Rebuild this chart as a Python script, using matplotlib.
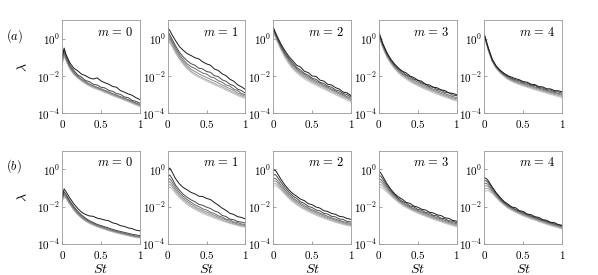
import numpy as np
import matplotlib
matplotlib.use("Agg")
import matplotlib.pyplot as plt

plt.rcParams['mathtext.fontset'] = 'cm'
plt.rcParams['font.family'] = 'serif'
plt.rcParams['font.serif'] = ['DejaVu Serif']

# Strouhal number samples
st = [0, 0.025, 0.05, 0.1, 0.15, 0.2, 0.25, 0.3, 0.35, 0.4, 0.45,
      0.5, 0.55, 0.6, 0.65, 0.7, 0.75, 0.8, 0.85, 0.9, 0.95, 1.0]

# log10(lambda), darkest curve first, row (a)
a_m0 = [
    [-1.0, -0.5, -0.85, -1.3, -1.58, -1.72, -1.9, -1.98, -2.1, -2.16, -2.1, -2.26, -2.36, -2.44, -2.56, -2.6, -2.78, -2.86, -2.96, -3.03, -3.16, -3.26],
    [-0.9, -0.6, -0.95, -1.42, -1.7, -1.94, -2.06, -2.24, -2.3, -2.44, -2.48, -2.6, -2.64, -2.77, -2.82, -2.94, -2.98, -3.12, -3.16, -3.3, -3.36, -3.45],
    [-1.1, -0.72, -1.05, -1.5, -1.8, -2.0, -2.17, -2.3, -2.42, -2.52, -2.6, -2.68, -2.77, -2.85, -2.94, -3.02, -3.1, -3.18, -3.27, -3.35, -3.44, -3.52],
    [-1.2, -0.8, -1.1, -1.55, -1.84, -2.04, -2.2, -2.34, -2.46, -2.56, -2.64, -2.72, -2.81, -2.89, -2.98, -3.06, -3.14, -3.22, -3.3, -3.39, -3.48, -3.56],
    [-1.3, -0.88, -1.15, -1.6, -1.88, -2.08, -2.24, -2.38, -2.5, -2.6, -2.68, -2.76, -2.85, -2.93, -3.02, -3.1, -3.18, -3.26, -3.34, -3.43, -3.52, -3.6],
    [-1.4, -0.95, -1.2, -1.64, -1.92, -2.12, -2.28, -2.42, -2.54, -2.64, -2.72, -2.8, -2.89, -2.97, -3.06, -3.14, -3.22, -3.3, -3.38, -3.47, -3.56, -3.64],
]
a_m1 = [
    [0.57, 0.45, 0.25, -0.1, -0.42, -0.62, -0.8, -0.9, -1.02, -1.08, -1.24, -1.35, -1.42, -1.62, -1.7, -1.88, -1.98, -2.17, -2.28, -2.47, -2.58, -2.72],
    [0.4, 0.22, 0.02, -0.38, -0.72, -0.98, -1.18, -1.34, -1.42, -1.58, -1.62, -1.76, -1.8, -1.98, -2.03, -2.2, -2.28, -2.44, -2.52, -2.7, -2.78, -2.92],
    [0.25, 0.08, -0.1, -0.5, -0.85, -1.12, -1.35, -1.5, -1.6, -1.72, -1.84, -1.9, -2.04, -2.1, -2.25, -2.33, -2.48, -2.54, -2.7, -2.78, -2.94, -3.0],
    [0.12, -0.04, -0.2, -0.6, -0.95, -1.23, -1.46, -1.64, -1.76, -1.88, -1.98, -2.08, -2.17, -2.27, -2.37, -2.48, -2.58, -2.68, -2.78, -2.9, -3.0, -3.08],
    [0.0, -0.14, -0.3, -0.7, -1.04, -1.32, -1.55, -1.74, -1.88, -2.0, -2.1, -2.2, -2.29, -2.39, -2.49, -2.58, -2.68, -2.78, -2.88, -2.98, -3.07, -3.15],
    [-0.08, -0.22, -0.38, -0.78, -1.1, -1.38, -1.62, -1.8, -1.95, -2.07, -2.17, -2.27, -2.36, -2.46, -2.56, -2.65, -2.75, -2.85, -2.95, -3.05, -3.13, -3.2],
]
a_m2 = [
    [0.6, 0.35, 0.12, -0.3, -0.65, -0.95, -1.18, -1.42, -1.52, -1.74, -1.82, -2.0, -2.02, -2.22, -2.27, -2.44, -2.48, -2.62, -2.7, -2.86, -2.9, -3.05],
    [0.55, 0.3, 0.05, -0.38, -0.75, -1.05, -1.3, -1.54, -1.68, -1.86, -1.96, -2.12, -2.18, -2.34, -2.4, -2.54, -2.6, -2.74, -2.8, -2.94, -3.0, -3.12],
    [0.5, 0.25, 0.0, -0.45, -0.82, -1.12, -1.4, -1.6, -1.78, -1.92, -2.05, -2.18, -2.28, -2.38, -2.5, -2.6, -2.7, -2.8, -2.9, -3.0, -3.1, -3.2],
    [0.45, 0.2, -0.05, -0.5, -0.88, -1.2, -1.48, -1.68, -1.85, -2.0, -2.13, -2.25, -2.35, -2.46, -2.56, -2.66, -2.76, -2.86, -2.96, -3.06, -3.16, -3.26],
    [0.4, 0.15, -0.1, -0.55, -0.95, -1.27, -1.55, -1.75, -1.92, -2.07, -2.2, -2.32, -2.43, -2.53, -2.63, -2.73, -2.83, -2.93, -3.03, -3.13, -3.22, -3.32],
    [0.3, 0.08, -0.18, -0.62, -1.02, -1.35, -1.62, -1.83, -2.0, -2.15, -2.28, -2.4, -2.5, -2.6, -2.7, -2.8, -2.9, -3.0, -3.1, -3.2, -3.3, -3.4],
]
a_m3 = [
    [0.35, 0.05, -0.25, -0.72, -1.08, -1.35, -1.56, -1.74, -1.83, -2.0, -2.08, -2.22, -2.28, -2.44, -2.48, -2.6, -2.63, -2.74, -2.78, -2.9, -2.93, -3.0],
    [0.3, 0.0, -0.3, -0.78, -1.12, -1.4, -1.62, -1.76, -1.94, -2.03, -2.17, -2.23, -2.37, -2.43, -2.57, -2.6, -2.72, -2.76, -2.87, -2.9, -3.02, -3.05],
    [0.25, -0.05, -0.35, -0.82, -1.18, -1.45, -1.68, -1.85, -1.98, -2.12, -2.22, -2.32, -2.42, -2.52, -2.62, -2.7, -2.78, -2.86, -2.94, -3.02, -3.1, -3.15],
    [0.2, -0.1, -0.4, -0.88, -1.22, -1.5, -1.72, -1.9, -2.05, -2.18, -2.3, -2.4, -2.5, -2.6, -2.68, -2.77, -2.85, -2.93, -3.01, -3.09, -3.17, -3.22],
    [0.15, -0.15, -0.45, -0.92, -1.28, -1.55, -1.78, -1.96, -2.1, -2.24, -2.36, -2.46, -2.56, -2.66, -2.74, -2.83, -2.91, -2.99, -3.07, -3.15, -3.22, -3.28],
    [0.1, -0.2, -0.5, -0.98, -1.33, -1.6, -1.83, -2.02, -2.17, -2.3, -2.42, -2.52, -2.62, -2.72, -2.8, -2.89, -2.97, -3.05, -3.13, -3.2, -3.28, -3.33],
]
a_m4 = [
    [0.2, -0.15, -0.5, -1.1, -1.45, -1.68, -1.85, -1.98, -2.06, -2.14, -2.2, -2.3, -2.33, -2.44, -2.46, -2.57, -2.58, -2.68, -2.69, -2.78, -2.79, -2.84],
    [0.18, -0.18, -0.53, -1.13, -1.48, -1.71, -1.88, -2.02, -2.12, -2.2, -2.25, -2.36, -2.38, -2.49, -2.51, -2.62, -2.64, -2.74, -2.75, -2.84, -2.85, -2.92],
    [0.16, -0.2, -0.56, -1.16, -1.51, -1.74, -1.92, -2.06, -2.17, -2.25, -2.32, -2.39, -2.46, -2.52, -2.59, -2.65, -2.71, -2.77, -2.83, -2.88, -2.93, -2.98],
    [0.14, -0.23, -0.59, -1.19, -1.54, -1.77, -1.95, -2.1, -2.21, -2.3, -2.37, -2.44, -2.51, -2.57, -2.64, -2.7, -2.76, -2.82, -2.88, -2.93, -2.98, -3.04],
    [0.12, -0.25, -0.62, -1.22, -1.57, -1.8, -1.98, -2.14, -2.25, -2.34, -2.42, -2.49, -2.56, -2.62, -2.69, -2.75, -2.81, -2.87, -2.93, -2.98, -3.04, -3.1],
    [0.1, -0.28, -0.65, -1.25, -1.6, -1.84, -2.02, -2.18, -2.29, -2.38, -2.46, -2.53, -2.6, -2.67, -2.74, -2.8, -2.86, -2.92, -2.98, -3.04, -3.1, -3.16],
]

# row (b)
b_m0 = [
    [-1.45, -1.05, -1.2, -1.55, -1.85, -2.1, -2.3, -2.42, -2.5, -2.52, -2.62, -2.66, -2.72, -2.76, -2.87, -2.92, -3.02, -3.06, -3.14, -3.18, -3.26, -3.3],
    [-1.5, -1.2, -1.35, -1.7, -2.0, -2.25, -2.45, -2.62, -2.75, -2.85, -2.95, -3.02, -3.08, -3.15, -3.22, -3.28, -3.33, -3.38, -3.43, -3.48, -3.52, -3.55],
    [-1.55, -1.3, -1.42, -1.77, -2.07, -2.32, -2.52, -2.68, -2.8, -2.9, -2.99, -3.06, -3.13, -3.2, -3.27, -3.33, -3.38, -3.43, -3.48, -3.53, -3.57, -3.6],
    [-1.6, -1.38, -1.48, -1.82, -2.12, -2.37, -2.57, -2.72, -2.84, -2.94, -3.03, -3.1, -3.17, -3.24, -3.3, -3.36, -3.41, -3.46, -3.51, -3.56, -3.6, -3.63],
    [-1.65, -1.45, -1.53, -1.86, -2.16, -2.41, -2.6, -2.75, -2.87, -2.97, -3.06, -3.13, -3.2, -3.27, -3.33, -3.39, -3.44, -3.49, -3.54, -3.59, -3.63, -3.66],
    [-1.7, -1.52, -1.58, -1.9, -2.2, -2.44, -2.63, -2.78, -2.9, -3.0, -3.09, -3.16, -3.23, -3.3, -3.36, -3.42, -3.47, -3.52, -3.57, -3.62, -3.66, -3.69],
]
b_m1 = [
    [-0.1, 0.07, -0.1, -0.5, -0.78, -0.98, -1.1, -1.24, -1.32, -1.44, -1.46, -1.56, -1.62, -1.78, -1.92, -2.08, -2.2, -2.36, -2.42, -2.54, -2.58, -2.66],
    [-0.4, -0.3, -0.45, -0.85, -1.12, -1.34, -1.5, -1.64, -1.74, -1.88, -1.93, -2.03, -2.1, -2.23, -2.3, -2.47, -2.53, -2.67, -2.7, -2.8, -2.83, -2.88],
    [-0.6, -0.5, -0.62, -0.98, -1.24, -1.45, -1.62, -1.77, -1.9, -2.0, -2.12, -2.18, -2.3, -2.37, -2.49, -2.56, -2.67, -2.72, -2.82, -2.86, -2.93, -2.96],
    [-0.75, -0.65, -0.78, -1.1, -1.35, -1.55, -1.72, -1.87, -2.0, -2.11, -2.21, -2.29, -2.38, -2.47, -2.56, -2.64, -2.72, -2.8, -2.87, -2.93, -2.98, -3.02],
    [-0.9, -0.8, -0.9, -1.2, -1.44, -1.64, -1.81, -1.96, -2.08, -2.19, -2.29, -2.38, -2.46, -2.55, -2.63, -2.71, -2.79, -2.86, -2.92, -2.98, -3.03, -3.07],
    [-1.05, -0.95, -1.02, -1.3, -1.52, -1.72, -1.89, -2.03, -2.15, -2.26, -2.36, -2.45, -2.53, -2.61, -2.69, -2.77, -2.84, -2.9, -2.96, -3.02, -3.07, -3.1],
]
b_m2 = [
    [-0.05, -0.05, -0.2, -0.55, -0.85, -1.1, -1.3, -1.44, -1.6, -1.68, -1.84, -1.9, -2.02, -2.08, -2.22, -2.26, -2.37, -2.41, -2.52, -2.55, -2.64, -2.68],
    [-0.3, -0.28, -0.4, -0.7, -0.98, -1.22, -1.42, -1.56, -1.74, -1.83, -1.99, -2.05, -2.18, -2.23, -2.36, -2.4, -2.52, -2.55, -2.66, -2.69, -2.79, -2.82],
    [-0.5, -0.48, -0.58, -0.85, -1.1, -1.33, -1.52, -1.68, -1.82, -1.95, -2.07, -2.17, -2.26, -2.35, -2.44, -2.52, -2.6, -2.67, -2.74, -2.8, -2.86, -2.9],
    [-0.65, -0.62, -0.7, -0.95, -1.2, -1.42, -1.6, -1.76, -1.9, -2.03, -2.14, -2.24, -2.33, -2.42, -2.51, -2.59, -2.66, -2.73, -2.8, -2.86, -2.92, -2.96],
    [-0.8, -0.76, -0.82, -1.05, -1.28, -1.5, -1.68, -1.84, -1.98, -2.1, -2.21, -2.31, -2.4, -2.49, -2.57, -2.65, -2.72, -2.79, -2.85, -2.91, -2.97, -3.01],
    [-0.92, -0.88, -0.92, -1.12, -1.35, -1.56, -1.75, -1.9, -2.04, -2.16, -2.27, -2.37, -2.46, -2.55, -2.63, -2.7, -2.77, -2.84, -2.9, -2.96, -3.01, -3.05],
]
b_m3 = [
    [-0.1, -0.2, -0.38, -0.75, -1.05, -1.3, -1.48, -1.6, -1.77, -1.83, -1.97, -2.03, -2.14, -2.18, -2.3, -2.34, -2.44, -2.48, -2.6, -2.63, -2.74, -2.78],
    [-0.3, -0.38, -0.52, -0.85, -1.12, -1.36, -1.55, -1.72, -1.81, -1.96, -2.02, -2.15, -2.19, -2.31, -2.35, -2.47, -2.5, -2.62, -2.65, -2.76, -2.78, -2.86],
    [-0.5, -0.55, -0.66, -0.95, -1.2, -1.42, -1.61, -1.77, -1.9, -2.01, -2.11, -2.2, -2.28, -2.36, -2.44, -2.52, -2.59, -2.66, -2.73, -2.8, -2.86, -2.92],
    [-0.65, -0.68, -0.78, -1.03, -1.27, -1.48, -1.67, -1.82, -1.95, -2.06, -2.16, -2.25, -2.34, -2.42, -2.5, -2.58, -2.65, -2.72, -2.79, -2.86, -2.92, -2.98],
    [-0.82, -0.83, -0.9, -1.12, -1.34, -1.54, -1.72, -1.87, -2.0, -2.11, -2.21, -2.3, -2.39, -2.47, -2.55, -2.63, -2.7, -2.77, -2.84, -2.91, -2.97, -3.03],
    [-0.98, -0.97, -1.02, -1.2, -1.4, -1.6, -1.77, -1.92, -2.05, -2.16, -2.26, -2.35, -2.44, -2.52, -2.6, -2.68, -2.75, -2.82, -2.89, -2.96, -3.02, -3.08],
]
b_m4 = [
    [-0.45, -0.5, -0.62, -0.95, -1.25, -1.5, -1.72, -1.86, -2.02, -2.06, -2.22, -2.26, -2.4, -2.43, -2.54, -2.58, -2.7, -2.73, -2.84, -2.86, -2.96, -3.0],
    [-0.6, -0.62, -0.72, -1.02, -1.3, -1.55, -1.76, -1.92, -2.04, -2.15, -2.25, -2.33, -2.42, -2.5, -2.57, -2.65, -2.72, -2.79, -2.86, -2.92, -2.98, -3.04],
    [-0.75, -0.75, -0.83, -1.1, -1.36, -1.6, -1.8, -1.96, -2.08, -2.19, -2.29, -2.37, -2.46, -2.54, -2.61, -2.69, -2.76, -2.83, -2.9, -2.96, -3.02, -3.08],
    [-0.9, -0.88, -0.93, -1.17, -1.42, -1.65, -1.84, -2.0, -2.12, -2.23, -2.33, -2.42, -2.5, -2.58, -2.65, -2.73, -2.8, -2.87, -2.94, -3.0, -3.06, -3.12],
    [-1.05, -1.02, -1.04, -1.24, -1.47, -1.69, -1.88, -2.04, -2.16, -2.27, -2.37, -2.46, -2.54, -2.62, -2.69, -2.77, -2.84, -2.91, -2.98, -3.04, -3.1, -3.16],
    [-1.2, -1.15, -1.14, -1.3, -1.52, -1.73, -1.92, -2.08, -2.2, -2.31, -2.41, -2.5, -2.58, -2.66, -2.73, -2.81, -2.88, -2.95, -3.02, -3.08, -3.14, -3.2],
]

rows = [[a_m0, a_m1, a_m2, a_m3, a_m4], [b_m0, b_m1, b_m2, b_m3, b_m4]]
row_labels = ['$(a)$', '$(b)$']
m_values = [0, 1, 2, 3, 4]
shades = ['0.1', '0.28', '0.42', '0.54', '0.65', '0.76']

fig, axs = plt.subplots(2, 5, figsize=(5.98, 2.75), dpi=100)
plt.subplots_adjust(left=0.104, right=0.94, top=0.927, bottom=0.113,
                    wspace=0.36, hspace=0.40)

for r in range(2):
    for c in range(5):
        ax = axs[r, c]
        curves = rows[r][c]
        # lightest first so the dark curves sit on top
        for k in range(len(curves) - 1, -1, -1):
            ax.semilogy(st, 10**np.array(curves[k]), color=shades[k], lw=0.7)
        ax.set_xlim(0, 1)
        ax.set_ylim(1e-4, 1e1)
        ax.set_xticks([0, 0.5, 1])
        ax.set_xticklabels(['$0$', '$0.5$', '$1$'])
        ax.set_yticks([1e-4, 1e-2, 1e0])
        ax.set_yticklabels(['$10^{-4}$', '$10^{-2}$', '$10^{0}$'])
        ax.minorticks_off()
        ax.tick_params(direction='in', length=2, width=0.5, labelsize=8,
                       color='0.5', pad=1.5)
        ax.tick_params(axis='x', pad=3.5)
        for s in ax.spines.values():
            s.set_color('0.6')
            s.set_linewidth(0.6)
        ax.text(0.68, 0.87, '$m\\,=\\,%d$' % m_values[c], transform=ax.transAxes,
                ha='center', va='center', fontsize=9)
        if r == 1:
            ax.set_xlabel('$St$', fontsize=10, labelpad=1)
        if c == 0:
            ax.set_ylabel('$\\lambda$', fontsize=10, labelpad=5)
            ax.text(-0.62, 0.83, row_labels[r], transform=ax.transAxes,
                    ha='center', va='center', fontsize=9)

fig.savefig('out.png')
